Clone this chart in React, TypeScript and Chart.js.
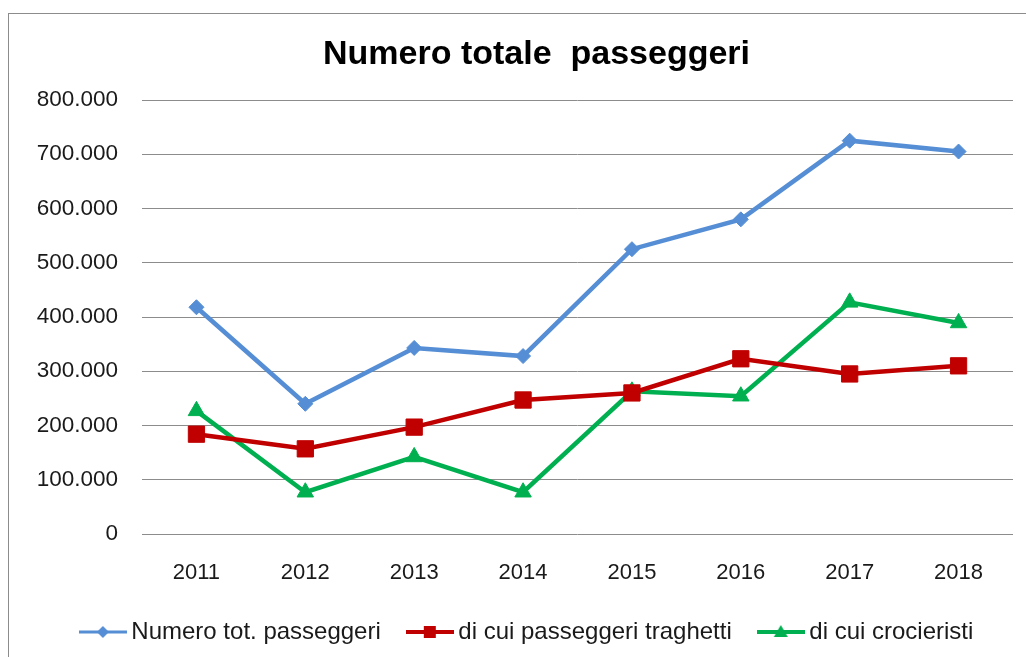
import React, { useEffect, useRef } from "react";
import { Chart, registerables } from "chart.js";

Chart.register(...registerables);

const years = ["2011", "2012", "2013", "2014", "2015", "2016", "2017", "2018"];
const totalPassengers = [418000, 240000, 343000, 328000, 525000, 580000, 725000, 705000];
const ferryPassengers = [184000, 157000, 197000, 247000, 260000, 323000, 295000, 310000];
const cruisePassengers = [227000, 77000, 142000, 77000, 263000, 254000, 427000, 389000];
const seriesNames = ["Numero tot. passeggeri", "di cui passeggeri traghetti", "di cui crocieristi"];
const seriesColors = ["#558ED5", "#C00000", "#00B050"];
const seriesShapes = ["diamond", "square", "triangle"];
const yMin = 0;
const yMax = 800000;
const yStep = 100000;
const chartTitle = "Numero totale  passeggeri";

const FONT = "'Liberation Sans', Arial, Helvetica, sans-serif";

function formatThousands(v: number): string {
  return String(Math.round(v)).replace(/\B(?=(\d{3})+(?!\d))/g, ".");
}

// Legend icon: a 48px line with its marker
function legendIcon(color: string, shape: string): HTMLCanvasElement {
  const c = document.createElement("canvas");
  c.width = 48;
  c.height = 20;
  const g = c.getContext("2d")!;
  g.strokeStyle = color;
  g.lineWidth = shape === "diamond" ? 3 : 4;
  g.beginPath();
  g.moveTo(0, 10);
  g.lineTo(48, 10);
  g.stroke();
  g.fillStyle = color;
  g.beginPath();
  if (shape === "diamond") {
    g.moveTo(24, 4);
    g.lineTo(30, 10);
    g.lineTo(24, 16);
    g.lineTo(18, 10);
  } else if (shape === "square") {
    g.rect(18, 4, 12, 12);
  } else {
    g.moveTo(24, 3);
    g.lineTo(31, 15);
    g.lineTo(17, 15);
  }
  g.closePath();
  g.fill();
  return c;
}

export default function App() {
  const canvasRef = useRef<HTMLCanvasElement | null>(null);

  useEffect(() => {
    if (!canvasRef.current) return;
    const icons = seriesColors.map((c, i) => legendIcon(c, seriesShapes[i]));
    const values = [totalPassengers, ferryPassengers, cruisePassengers];
    const pointStyles = ["rectRot", "rect", "triangle"];
    const pointRadii = [7.5, 11.5, 9.5];

    const chart = new Chart(canvasRef.current, {
      type: "line",
      data: {
        labels: years,
        datasets: values.map((d, i) => ({
          label: seriesNames[i],
          data: d,
          borderColor: seriesColors[i],
          backgroundColor: seriesColors[i],
          pointBackgroundColor: seriesColors[i],
          pointBorderColor: seriesColors[i],
          pointBorderWidth: 1,
          borderWidth: 4.5,
          pointStyle: pointStyles[i] as any,
          pointRadius: pointRadii[i],
          tension: 0,
          fill: false,
        })),
      },
      options: {
        animation: false,
        responsive: true,
        maintainAspectRatio: false,
        layout: { padding: 0 },
        plugins: {
          tooltip: { enabled: false },
          title: {
            display: true,
            text: chartTitle,
            color: "#000000",
            font: { family: FONT, size: 34, weight: "bold", lineHeight: 1.2 },
            padding: { top: 20, bottom: 25.2 },
          },
          legend: {
            display: true,
            position: "bottom",
            labels: {
              usePointStyle: true,
              pointStyleWidth: 33,
              boxHeight: 24,
              padding: 32.5,
              color: "#1a1a1a",
              font: { family: FONT, size: 24 },
              generateLabels: (ch: any) => {
                const items = Chart.defaults.plugins.legend.labels.generateLabels(ch);
                return items.map((l: any, i: number) => ({
                  ...l,
                  pointStyle: icons[i],
                  text: i === items.length - 1 ? l.text + "  " : l.text,
                }));
              },
            },
          },
        },
        scales: {
          x: {
            offset: true,
            grid: { display: false, drawTicks: false, offset: true },
            border: { display: false },
            ticks: {
              color: "#1a1a1a",
              padding: 26,
              font: { family: FONT, size: 22 },
            },
            afterFit: (scale: any) => {
              scale.height = 53.5;
            },
          },
          y: {
            min: yMin,
            max: yMax,
            grid: { color: "#8c8c8c", lineWidth: 1, drawTicks: false },
            border: { display: false },
            ticks: {
              stepSize: yStep,
              color: "#1a1a1a",
              padding: 24,
              font: { family: FONT, size: 22.5 },
              callback: (v: any) => formatThousands(Number(v)),
            },
            afterFit: (scale: any) => {
              scale.width = 133;
            },
          },
          yRightSpace: {
            position: "right",
            display: true,
            grid: { display: false, drawTicks: false },
            border: { display: false },
            ticks: { display: false },
            afterFit: (scale: any) => {
              scale.width = 51;
            },
          },
        },
      },
    });
    return () => chart.destroy();
  }, []);

  return (
    <div
      style={{
        position: "absolute",
        left: 0,
        top: 0,
        width: 1026,
        height: 657,
        overflow: "hidden",
        background: "#ffffff",
      }}
    >
      <div
        style={{
          position: "absolute",
          left: 8,
          top: 13,
          width: 1056,
          height: 700,
          borderLeft: "1px solid #8c8c8c",
          borderTop: "1px solid #8c8c8c",
          background: "#ffffff",
        }}
      >
        <div style={{ position: "absolute", left: 0, top: 0, width: 1055, height: 640 }}>
          <canvas ref={canvasRef} />
        </div>
      </div>
    </div>
  );
}
